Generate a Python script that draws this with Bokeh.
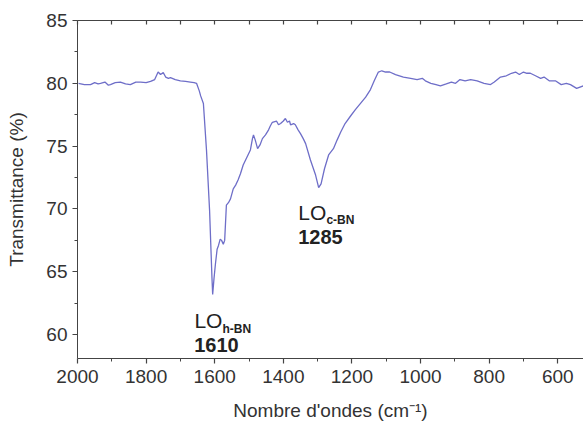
from bokeh.plotting import figure
from bokeh.models import Range1d, LinearAxis, FixedTicker, ColumnDataSource
from bokeh.embed import file_html
from bokeh.resources import INLINE
from bokeh.core.properties import value

# Spectrum: wavenumber (cm-1) and transmittance (%)
wavenumber = [1997, 1980, 1962, 1950, 1940, 1933, 1920, 1910, 1904, 1890, 1875, 1860, 1846, 1830,
              1816, 1800, 1787, 1775, 1765, 1758, 1750, 1743, 1735, 1729, 1715, 1700, 1685, 1671,
              1660, 1653, 1645, 1641, 1633, 1624, 1615, 1608, 1606, 1602, 1598, 1593, 1589, 1584,
              1580, 1575, 1571, 1566, 1560, 1554, 1546, 1539, 1532, 1525, 1517, 1510, 1503, 1496,
              1490, 1487, 1482, 1475, 1468, 1461, 1452, 1443, 1438, 1432, 1420, 1414, 1408, 1400,
              1394, 1388, 1382, 1379, 1370, 1365, 1357, 1350, 1342, 1335, 1321, 1306, 1297, 1290,
              1280, 1268, 1254, 1243, 1233, 1220, 1204, 1190, 1175, 1160, 1146, 1135, 1123, 1113,
              1102, 1090, 1073, 1050, 1029, 1010, 995, 986, 970, 955, 942, 925, 910, 898, 885, 870,
              854, 835, 815, 796, 785, 767, 750, 735, 723, 712, 700, 690, 680, 665, 650, 640, 625,
              607, 590, 575, 563, 545, 525]
transmittance = [80.0, 79.9, 79.9, 80.05, 79.95, 80.0, 80.1, 79.85, 79.9, 80.05, 80.1, 79.95, 79.9, 80.1,
                 80.1, 80.05, 80.15, 80.3, 80.9, 80.7, 80.85, 80.5, 80.4, 80.45, 80.3, 80.2, 80.15, 80.1,
                 80.05, 80.0, 79.4, 79.0, 78.4, 74.7, 69.9, 64.5, 63.2, 64.5, 65.6, 66.8, 67.1, 67.6,
                 67.5, 67.2, 67.5, 70.3, 70.5, 70.8, 71.6, 71.9, 72.3, 72.8, 73.5, 73.9, 74.3, 74.7,
                 75.6, 75.9, 75.5, 74.8, 75.1, 75.6, 75.9, 76.3, 76.6, 76.9, 77.0, 76.7, 76.8, 77.0,
                 77.2, 76.9, 77.0, 76.7, 76.8, 76.7, 76.3, 76.0, 75.6, 75.2, 73.9, 72.7, 71.7, 72.0,
                 73.2, 74.3, 74.8, 75.5, 76.1, 76.8, 77.4, 77.9, 78.4, 78.9, 79.5, 80.2, 80.9, 81.0,
                 80.9, 80.9, 80.7, 80.5, 80.4, 80.3, 80.4, 80.2, 80.0, 79.9, 79.8, 79.95, 80.1, 80.0, 80.3, 80.2,
                 80.3, 80.2, 80.0, 79.9, 80.1, 80.5, 80.6, 80.8, 80.9, 80.7, 80.9, 80.8, 80.8, 80.6, 80.4, 80.5, 80.2,
                 80.2, 79.9, 80.0, 79.9, 79.6, 79.8]

x_ticks = [2000, 1800, 1600, 1400, 1200, 1000, 800, 600]
x_minor = [1900, 1700, 1500, 1300, 1100, 900, 700]
y_ticks = [60, 65, 70, 75, 80, 85]
y_minor = [57.5, 62.5, 67.5, 72.5, 77.5, 82.5]

# Peak annotations
ann_x = [1595, 1292]
ann_num = ["1610", "1285"]
ann_num_y = [59.14, 67.74]
ann_lo_y = [61.13, 69.73]
ann_sub = ["h-BN", "c-BN"]
ann_sub_y = [60.45, 69.12]

FONT = "Liberation Sans"
AX_COL = "#444444"
TXT_COL = "#333333"
LINE_COL = "#6e6ec8"

p = figure(width=583, height=431, output_backend="svg", toolbar_location=None,
           x_range=Range1d(2000, 525), y_range=Range1d(58.1, 85.0),
           min_border_left=77, min_border_right=0, min_border_top=20, min_border_bottom=73)
p.outline_line_color = None
p.grid.grid_line_color = None
p.background_fill_color = "white"

p.line(wavenumber, transmittance, line_color=LINE_COL, line_width=1.3)

for ax in (p.xaxis[0], p.yaxis[0]):
    ax.axis_line_color = AX_COL
    ax.axis_line_width = 1
    ax.major_tick_line_color = AX_COL
    ax.major_tick_line_width = 1.2
    ax.minor_tick_line_color = AX_COL
    ax.minor_tick_line_width = 1
    ax.major_tick_in = 0
    ax.major_tick_out = 5
    ax.minor_tick_in = 0
    ax.minor_tick_out = 3
    ax.major_label_text_font = FONT
    ax.major_label_text_font_size = "19px"
    ax.major_label_text_color = TXT_COL
    ax.axis_label_text_font = FONT
    ax.axis_label_text_font_size = "19px"
    ax.axis_label_text_font_style = "normal"
    ax.axis_label_text_color = TXT_COL

p.xaxis[0].ticker = FixedTicker(ticks=x_ticks, minor_ticks=x_minor)
p.yaxis[0].ticker = FixedTicker(ticks=y_ticks, minor_ticks=y_minor)
p.xaxis[0].axis_label = "Nombre d'ondes (cm\u207b\u00b9)"
p.yaxis[0].axis_label = "Transmittance (%)"
p.xaxis[0].major_label_standoff = 6
p.xaxis[0].axis_label_standoff = 14
p.yaxis[0].major_label_standoff = 5
p.yaxis[0].axis_label_standoff = 16

# top border with inward ticks only (no labels): all tick positions given as minor ticks
top = LinearAxis(ticker=FixedTicker(ticks=[], minor_ticks=x_ticks + x_minor))
top.axis_line_color = AX_COL
top.minor_tick_line_color = AX_COL
top.minor_tick_line_width = 1.2
top.minor_tick_in = 4
top.minor_tick_out = 0
top.major_tick_in = 0
top.major_tick_out = 0
p.add_layout(top, "above")

src = ColumnDataSource(dict(x=ann_x, num=ann_num, ny=ann_num_y, ly=ann_lo_y,
                            sub=ann_sub, sy=ann_sub_y, lo=["LO", "LO"]))
p.text(x="x", y="ny", text="num", source=src, text_font=value(FONT), text_font_size="20px",
       text_font_style="bold", text_color="#222222", text_align="center", text_baseline="middle")
p.text(x="x", y="ly", text="lo", source=src, text_font=value(FONT), text_font_size="21px",
       text_color="#222222", text_align="right", text_baseline="middle", x_offset=6)
p.text(x="x", y="sy", text="sub", source=src, text_font=value(FONT), text_font_size="12px",
       text_font_style="bold", text_color="#222222", text_align="left", text_baseline="middle", x_offset=6)

open("out.html", "w").write(file_html(p, INLINE))
